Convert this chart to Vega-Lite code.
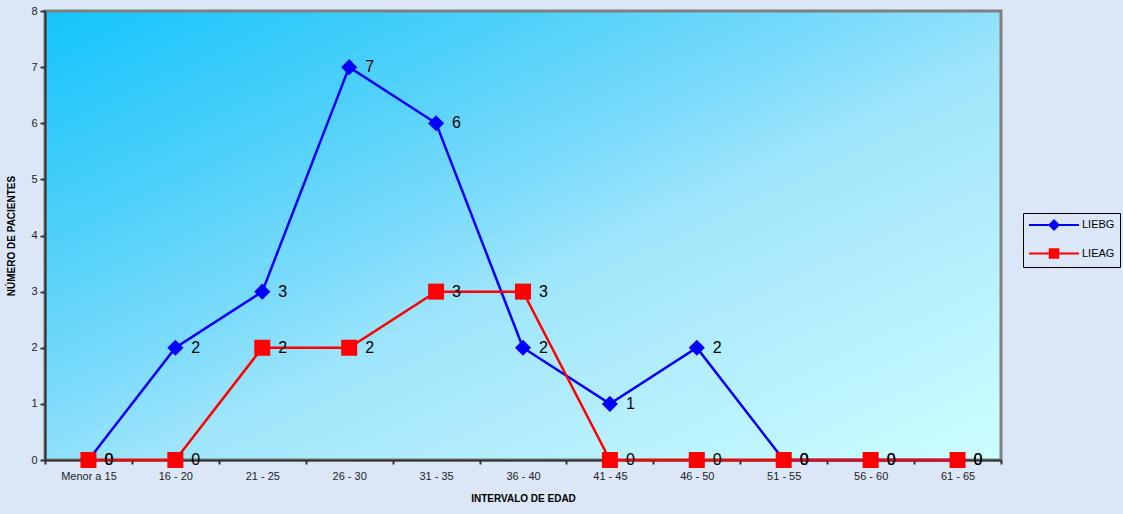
{
  "$schema": "https://vega.github.io/schema/vega-lite/v6.json",
  "width": 956,
  "height": 449,
  "autosize": {"type": "none"},
  "padding": {"left": 45, "top": 11, "right": 122, "bottom": 54},
  "background": "#dbe7f7",
  "config": {
    "font": "Liberation Sans",
    "view": {
      "fill": {"gradient": "linear", "x1": 0, "y1": 0, "x2": 1, "y2": 1, "stops": [
        {"offset": 0, "color": "#14c4fc"},
        {"offset": 0.27, "color": "#52d1f9"},
        {"offset": 0.45, "color": "#80dcfb"},
        {"offset": 0.55, "color": "#9ee5fb"},
        {"offset": 0.72, "color": "#b2edfc"},
        {"offset": 1, "color": "#ccffff"}
      ]},
      "stroke": "#808080",
      "strokeWidth": 3
    }
  },
  "data": {"values": [
    {"intervalo": "Menor a 15", "serie": "LIEBG", "n": 0},
    {"intervalo": "16 - 20", "serie": "LIEBG", "n": 2},
    {"intervalo": "21 - 25", "serie": "LIEBG", "n": 3},
    {"intervalo": "26 - 30", "serie": "LIEBG", "n": 7},
    {"intervalo": "31 - 35", "serie": "LIEBG", "n": 6},
    {"intervalo": "36 - 40", "serie": "LIEBG", "n": 2},
    {"intervalo": "41 - 45", "serie": "LIEBG", "n": 1},
    {"intervalo": "46 - 50", "serie": "LIEBG", "n": 2},
    {"intervalo": "51 - 55", "serie": "LIEBG", "n": 0},
    {"intervalo": "56 - 60", "serie": "LIEBG", "n": 0},
    {"intervalo": "61 - 65", "serie": "LIEBG", "n": 0},
    {"intervalo": "Menor a 15", "serie": "LIEAG", "n": 0},
    {"intervalo": "16 - 20", "serie": "LIEAG", "n": 0},
    {"intervalo": "21 - 25", "serie": "LIEAG", "n": 2},
    {"intervalo": "26 - 30", "serie": "LIEAG", "n": 2},
    {"intervalo": "31 - 35", "serie": "LIEAG", "n": 3},
    {"intervalo": "36 - 40", "serie": "LIEAG", "n": 3},
    {"intervalo": "41 - 45", "serie": "LIEAG", "n": 0},
    {"intervalo": "46 - 50", "serie": "LIEAG", "n": 0},
    {"intervalo": "51 - 55", "serie": "LIEAG", "n": 0},
    {"intervalo": "56 - 60", "serie": "LIEAG", "n": 0},
    {"intervalo": "61 - 65", "serie": "LIEAG", "n": 0}
  ]},
  "encoding": {
    "x": {
      "field": "intervalo", "type": "nominal", "sort": null,
      "scale": {"paddingInner": 0, "paddingOuter": 0},
      "axis": {
        "title": "INTERVALO DE EDAD", "titleFontSize": 10, "titleFontWeight": "bold", "titleColor": "#000", "titlePadding": 12,
        "labelAngle": 0, "labelFontSize": 11, "labelColor": "#222", "labelPadding": 6,
        "domainColor": "#333", "domainWidth": 2, "tickColor": "#333", "tickWidth": 2, "tickSize": 4, "tickBand": "extent"
      }
    },
    "y": {
      "field": "n", "type": "quantitative",
      "scale": {"domain": [0, 8], "nice": false},
      "axis": {
        "title": "NÚMERO DE PACIENTES", "titleFontSize": 10, "titleFontWeight": "bold", "titleColor": "#000", "titlePadding": 14,
        "values": [0, 1, 2, 3, 4, 5, 6, 7, 8], "grid": false,
        "labelFontSize": 11, "labelColor": "#222", "labelPadding": 3,
        "domainColor": "#333", "domainWidth": 2, "tickColor": "#333", "tickWidth": 2, "tickSize": 5
      }
    }
  },
  "layer": [
    {
      "mark": {"type": "line", "strokeWidth": 2.5},
      "encoding": {
        "stroke": {
          "field": "serie", "type": "nominal",
          "scale": {"domain": ["LIEBG", "LIEAG"], "range": ["#0000ff", "#ff0000"]},
          "legend": {
            "title": null, "orient": "none", "legendX": 978, "legendY": 202,
            "strokeColor": "#000", "padding": 5, "labelFontSize": 11, "labelColor": "#000",
            "symbolSize": 144, "symbolStrokeWidth": 2, "labelOffset": 40, "rowPadding": 10.5,
            "encode": {
              "symbols": {
                "update": {
                  "shape": {"signal": "datum.value === 'LIEBG' ? 'M-1,0H7.33M3.17,-0.75L3.92,0L3.17,0.75L2.42,0Z' : 'M-1,0H7.33M2.47,-0.7H3.87V0.7H2.47Z'"},
                  "fill": {"signal": "datum.value === 'LIEBG' ? '#0000ff' : '#ff0000'"},
                  "stroke": {"signal": "datum.value === 'LIEBG' ? '#0000ff' : '#ff0000'"},
                  "strokeWidth": {"value": 2}
                }
              }
            }
          }
        },
        "order": {"field": "serie"}
      }
    },
    {
      "mark": {"type": "point", "filled": true, "opacity": 1},
      "encoding": {
        "fill": {"condition": {"test": "datum.serie === 'LIEBG'", "value": "#0000ff"}, "value": "#ff0000"},
        "shape": {"condition": {"test": "datum.serie === 'LIEBG'", "value": "diamond"}, "value": "square"},
        "size": {"condition": {"test": "datum.serie === 'LIEBG'", "value": 260}, "value": 256}
      }
    },
    {
      "mark": {"type": "text", "align": "left", "baseline": "middle", "dx": 16, "fontSize": 16, "color": "#000"},
      "encoding": {
        "text": {"field": "n", "type": "quantitative"}
      }
    }
  ]
}
